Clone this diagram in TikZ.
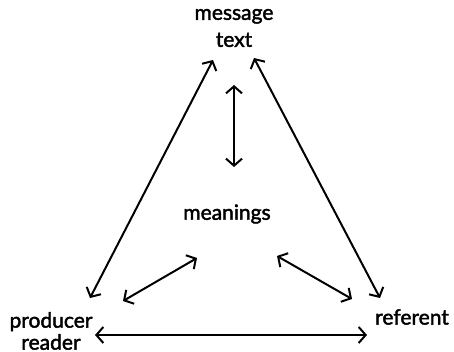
\documentclass[tikz,border=0pt]{standalone}
\usepackage{fontspec}
\setmainfont{Lato}[FakeBold=2]
\usetikzlibrary{arrows.meta}

\tikzset{
  lbl/.style={align=center, inner sep=0pt, font=\fontsize{10.5}{11}\selectfont},
  dbl/.style={{Straight Barb[length=3.5pt,width=8pt]}-{Straight Barb[length=3.5pt,width=8pt]}, line width=1pt}
}

\begin{document}
\begin{tikzpicture}[x=0.5pt, y=-0.5pt]
\useasboundingbox (0,0) rectangle (454,352);
\node[lbl] (msg) at (234,28) {message\\[2.5pt]text};
\node[lbl] (mean) at (227,214) {meanings};
\node[lbl] (prod) at (51,331) {producer\\reader};
\node[lbl] (ref) at (412,317) {referent};
% outer triangle
\draw[dbl] ([shift={(39,-33)}]prod.center) -- ([shift={(-21,32)}]msg.center);
\draw[dbl] ([shift={(20,30)}]msg.center) -- ([shift={(-32,-19)}]ref.center);
\draw[dbl] ([shift={(44,4)}]prod.center) -- ([shift={(-45,18)}]ref.center);
% spokes to meanings
\draw[dbl] ([shift={(0,57)}]msg.center) -- ([shift={(7,-47)}]mean.center);
\draw[dbl] ([shift={(72,-30)}]prod.center) -- ([shift={(-30,44)}]mean.center);
\draw[dbl] ([shift={(50,42)}]mean.center) -- ([shift={(-60,-18)}]ref.center);
\end{tikzpicture}
\end{document}
